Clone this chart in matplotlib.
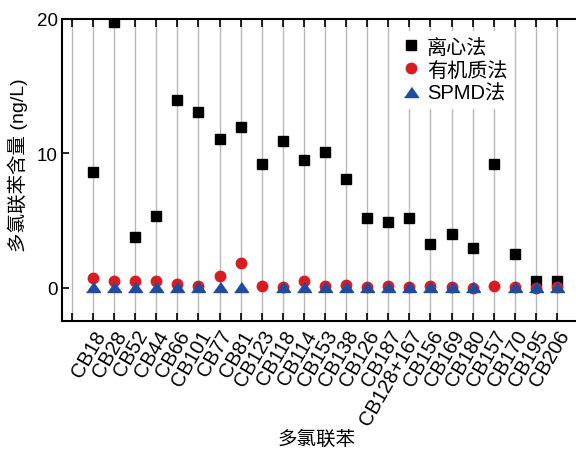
import numpy as np
import matplotlib
matplotlib.use("Agg")
import matplotlib.pyplot as plt
from matplotlib.lines import Line2D
from matplotlib.transforms import ScaledTranslation

plt.rcParams['font.family'] = ['Liberation Sans', 'Noto Sans CJK SC', 'DejaVu Sans']

categories = ['', 'CB18', 'CB28', 'CB52', 'CB44', 'CB66', 'CB101', 'CB77', 'CB81',
              'CB123', 'CB118', 'CB114', 'CB153', 'CB138', 'CB126', 'CB187',
              'CB128+167', 'CB156', 'CB169', 'CB180', 'CB157', 'CB170', 'CB195', 'CB206']

centrifuge = [np.nan, 8.6, 19.8, 3.8, 5.35, 14.0, 13.05, 11.1, 12.0,
              9.2, 10.95, 9.5, 10.1, 8.1, 5.2, 4.9,
              5.2, 3.25, 4.0, 2.95, 9.25, 2.55, 0.55, 0.55]

organic = [np.nan, 0.72, 0.48, 0.55, 0.55, 0.3, 0.15, 0.85, 1.85,
           0.15, 0.1, 0.48, 0.12, 0.25, 0.1, 0.12,
           0.05, 0.15, 0.1, 0.0, 0.12, 0.1, 0.0, 0.1]

spmd = [np.nan, 0.05, 0.05, 0.05, 0.05, 0.05, 0.05, 0.05, 0.05,
        np.nan, 0.05, 0.05, 0.05, 0.05, 0.05, 0.05,
        0.05, 0.05, 0.05, 0.05, np.nan, 0.05, 0.05, 0.05]

labels = ['离心法', '有机质法', 'SPMD法']
yticks = [0, 10, 20]

red = '#d81c24'
blue = '#1f4c9c'
tri = [(-1, -0.72), (1, -0.72), (0, 0.72)]

W, H = 576, 452
fig = plt.figure(figsize=(W / 100, H / 100), dpi=100)
ax = fig.add_axes([62 / W, 1 - 322 / H, 514 / W, 302 / H])

x = np.arange(len(categories))
ax.plot(x, centrifuge, ls='none', marker='s', ms=7.5, color='black', mec='black', zorder=3)
ax.plot(x, organic, ls='none', marker='o', ms=7.5, color=red, mec=red, zorder=4)
ax.plot(x, spmd, ls='none', marker=tri, ms=10, color=blue, mec=blue, zorder=5)

ax.set_xlim(-0.47, 23.9)
ax.set_ylim(-2.46, 20)
ax.set_yticks(yticks)
ax.set_yticklabels([str(v) for v in yticks], fontsize=13.5)
ax.set_xticks(x)
ax.set_xticklabels(categories, rotation=60, ha='right', va='top',
                   rotation_mode='anchor', fontsize=14.5)
off = ScaledTranslation(6 / 100, -3 / 100, fig.dpi_scale_trans)
for lab in ax.get_xticklabels():
    lab.set_transform(lab.get_transform() + off)
ax.tick_params(axis='x', direction='in', length=6, width=1.2, top=True, pad=4, color='black')
ax.tick_params(axis='y', direction='in', length=5, width=1.2, pad=3)
ax.grid(axis='x', color='#b8b8b8', lw=1.0, zorder=0)
ax.set_axisbelow(True)
for s in ['left', 'bottom', 'top']:
    ax.spines[s].set_linewidth(1.5)
ax.spines['right'].set_visible(False)

handles = [Line2D([], [], ls='none', marker='s', ms=7, color='black'),
           Line2D([], [], ls='none', marker='o', ms=7.5, color=red),
           Line2D([], [], ls='none', marker=tri, ms=10, color=blue)]
leg = ax.legend(handles, labels, loc='center', bbox_to_anchor=(454 / W, 1 - 71 / H),
                bbox_transform=fig.transFigure, fontsize=14.5, frameon=True,
                facecolor='white', edgecolor='none', framealpha=1, borderpad=0.3,
                handlelength=1.0, handletextpad=0.3, labelspacing=0.2, borderaxespad=0)
leg.set_zorder(10)

fig.text(18 / W, 1 - 165 / H, '多氯联苯含量 (ng/L)', rotation=90, ha='center', va='center', fontsize=14)
fig.text(317 / W, 1 - 440 / H, '多氯联苯', ha='center', va='center', fontsize=14)

fig.savefig('out.png', dpi=100)
